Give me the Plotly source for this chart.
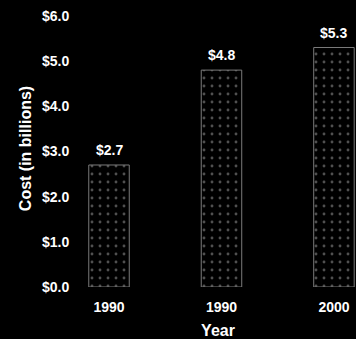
import plotly.graph_objects as go

years = ["1990", "1990", "2000"]
costs = [2.7, 4.8, 5.3]
value_labels = ["$2.7", "$4.8", "$5.3"]
y_ticks = [0, 1, 2, 3, 4, 5, 6]
y_tick_labels = ["$0.0", "$1.0", "$2.0", "$3.0", "$4.0", "$5.0", "$6.0"]

positions = list(range(len(years)))
font_family = "Liberation Sans, Arial, sans-serif"
txt_font = dict(family=font_family, size=14, color="white", weight="bold")
title_font = dict(family=font_family, size=16, color="white", weight="bold")

fig = go.Figure()
fig.add_trace(go.Bar(
    x=positions,
    y=costs,
    width=0.36,
    marker=dict(
        color="black",
        line=dict(color="#7a7a7a", width=1),
        pattern=dict(shape=".", fgcolor="#a0a0a0", bgcolor="black",
                     size=8, solidity=0.1, fillmode="overlay"),
    ),
    hoverinfo="skip",
))

for xi, yi, t in zip(positions, costs, value_labels):
    fig.add_annotation(x=xi, y=yi, text=t, showarrow=False,
                       yanchor="middle", yshift=15, font=txt_font)

fig.update_layout(
    width=356, height=339,
    paper_bgcolor="black", plot_bgcolor="black",
    margin=dict(l=80, r=0, t=10, b=50),
    showlegend=False,
    font=txt_font,
    xaxis=dict(
        range=[-0.258, 2.196],
        tickvals=positions, ticktext=years,
        showgrid=False, zeroline=False, showline=False,
        ticks="outside", ticklen=7, tickcolor="black",
        tickfont=txt_font,
        title=dict(text="Year", standoff=13, font=title_font),
        fixedrange=True,
    ),
    yaxis=dict(
        range=[0, 6.13],
        tickvals=y_ticks, ticktext=y_tick_labels,
        showgrid=False, zeroline=False, showline=False,
        ticks="outside", ticklen=7, tickcolor="black",
        tickfont=txt_font,
        title=dict(text="Cost (in billions)", standoff=6, font=title_font),
        fixedrange=True,
    ),
)

fig.write_html(
    "out.html",
    config={"displayModeBar": False},
    post_script="document.body.style.margin='0';document.body.style.background='black';",
)
